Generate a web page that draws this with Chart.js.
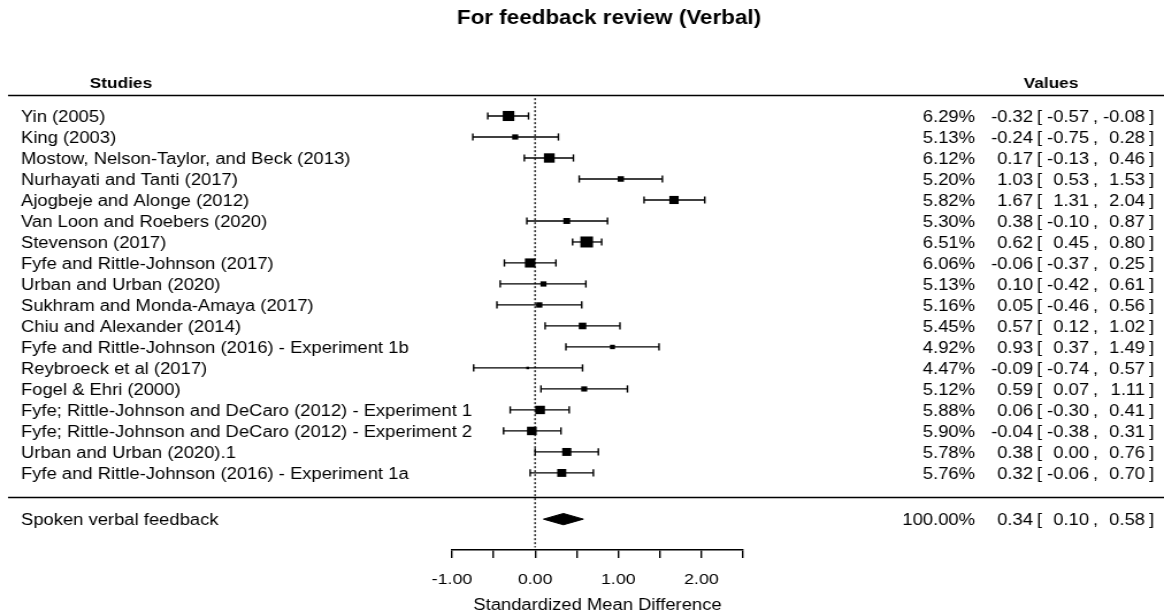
<!DOCTYPE html>
<html>
<head>
<meta charset="utf-8">
<script src="https://cdn.jsdelivr.net/npm/chart.js@4.4.1/dist/chart.umd.min.js"></script>
<style>
  body { margin: 0; background: #fff; }
  canvas { display: block; }
</style>
</head>
<body>
<canvas id="forest" width="1012" height="615" style="width:1164px;height:615px"></canvas>
<script>
// forest plot data
const studies = [
  "Yin (2005)",
  "King (2003)",
  "Mostow, Nelson-Taylor, and Beck (2013)",
  "Nurhayati and Tanti (2017)",
  "Ajogbeje and Alonge (2012)",
  "Van Loon and Roebers (2020)",
  "Stevenson (2017)",
  "Fyfe and Rittle-Johnson (2017)",
  "Urban and Urban (2020)",
  "Sukhram and Monda-Amaya (2017)",
  "Chiu and Alexander (2014)",
  "Fyfe and Rittle-Johnson (2016) - Experiment 1b",
  "Reybroeck et al (2017)",
  "Fogel & Ehri (2000)",
  "Fyfe; Rittle-Johnson and DeCaro (2012) - Experiment 1",
  "Fyfe; Rittle-Johnson and DeCaro (2012) - Experiment 2",
  "Urban and Urban (2020).1",
  "Fyfe and Rittle-Johnson (2016) - Experiment 1a"
]
const weights = [6.29, 5.13, 6.12, 5.20, 5.82, 5.30, 6.51, 6.06, 5.13, 5.16, 5.45, 4.92, 4.47, 5.12, 5.88, 5.90, 5.78, 5.76]
const estimates = [-0.32, -0.24, 0.17, 1.03, 1.67, 0.38, 0.62, -0.06, 0.10, 0.05, 0.57, 0.93, -0.09, 0.59, 0.06, -0.04, 0.38, 0.32]
const lower = [-0.57, -0.75, -0.13, 0.53, 1.31, -0.10, 0.45, -0.37, -0.42, -0.46, 0.12, 0.37, -0.74, 0.07, -0.30, -0.38, 0.00, -0.06]
const upper = [-0.08, 0.28, 0.46, 1.53, 2.04, 0.87, 0.80, 0.25, 0.61, 0.56, 1.02, 1.49, 0.57, 1.11, 0.41, 0.31, 0.76, 0.70]

const summaryLabel = "Spoken verbal feedback"
const summaryWeight = 100.00
const summaryEst = 0.34
const summaryLower = 0.10
const summaryUpper = 0.58

const xTicks = [-1.00, 0.00, 1.00, 2.00]

// layout (reference pixels, canvas is stretched horizontally by SX)
const SX = 1164 / 1012
const FONT = "'Liberation Sans', Arial, sans-serif"
const summaryRow = 19.2
const px = (v) => v / SX

const minW = Math.min(...weights)
const maxW = Math.max(...weights)
// square side grows with study weight
const radii = weights.map((w) => (2.5 + 8.5 * (w - minW) / (maxW - minW)) * Math.SQRT1_2)

const datasets = []

// confidence intervals with end caps
studies.forEach((s, i) => {
  datasets.push({
    data: [{ x: lower[i], y: i }, { x: upper[i], y: i }],
    showLine: true,
    borderColor: "#000",
    borderWidth: 1.3,
    pointStyle: "line",
    rotation: 90,
    pointRadius: 3.6,
    pointBorderWidth: 1.4,
    pointBorderColor: "#000",
    order: 3
  })
})

// study estimates
datasets.push({
  data: estimates.map((e, i) => ({ x: e, y: i })),
  pointStyle: "rect",
  pointRadius: radii,
  pointBackgroundColor: "#000",
  pointBorderWidth: 0,
  order: 1
})

// summary diamond
datasets.push({
  data: [
    { x: summaryLower, y: summaryRow },
    { x: summaryEst, y: summaryRow - 0.27 },
    { x: summaryUpper, y: summaryRow },
    { x: summaryEst, y: summaryRow + 0.27 },
    { x: summaryLower, y: summaryRow }
  ],
  showLine: true,
  fill: "shape",
  backgroundColor: "#000",
  borderColor: "#000",
  borderWidth: 1,
  pointRadius: 0,
  order: 1
})

// reference line at zero
datasets.push({
  data: [{ x: 0, y: -0.85 }, { x: 0, y: 20.55 }],
  showLine: true,
  borderColor: "#333",
  borderWidth: 1.6,
  borderDash: [2, 2],
  pointRadius: 0,
  order: 4
})

function fmt(v) {
  return v.toFixed(2)
}

const textPlugin = {
  id: "forestText",
  afterDraw(chart) {
    const ctx = chart.ctx
    const y = chart.scales.y
    ctx.save()
    ctx.fillStyle = "#000"

    // title
    ctx.font = "bold 19.5px " + FONT
    ctx.textAlign = "center"
    ctx.textBaseline = "middle"
    ctx.fillText("For feedback review (Verbal)", px(609), 19)

    // headers
    ctx.font = "bold 15px " + FONT
    ctx.fillText("Studies", px(121), 84)
    ctx.fillText("Values", px(1051), 84)

    // rules
    ctx.strokeStyle = "#000"
    ctx.lineWidth = 1.5
    ctx.beginPath()
    ctx.moveTo(px(8), 95.5)
    ctx.lineTo(px(1164), 95.5)
    ctx.moveTo(px(8), 497.5)
    ctx.lineTo(px(1164), 497.5)
    ctx.stroke()

    ctx.font = "16px " + FONT
    const row = (label, w, est, lo, hi, yy) => {
      yy += 1.5
      ctx.textAlign = "left"
      ctx.fillText(label, px(21), yy)
      ctx.textAlign = "right"
      ctx.fillText(w.toFixed(2) + "%", px(975), yy)
      ctx.fillText(fmt(est), px(1033), yy)
      ctx.fillText(fmt(lo), px(1089), yy)
      ctx.fillText(fmt(hi), px(1145), yy)
      ctx.textAlign = "left"
      ctx.fillText("[", px(1037), yy)
      ctx.fillText(",", px(1093), yy)
      ctx.fillText("]", px(1149), yy)
    }
    studies.forEach((s, i) => {
      row(s, weights[i], estimates[i], lower[i], upper[i], y.getPixelForValue(i))
    })
    row(summaryLabel, summaryWeight, summaryEst, summaryLower, summaryUpper, y.getPixelForValue(summaryRow))
    ctx.restore()
  }
}

new Chart(document.querySelector("#forest"), {
  type: "scatter",
  data: { datasets: datasets },
  options: {
    responsive: false,
    animation: false,
    events: [],
    layout: {
      padding: { left: px(452), right: 1012 - px(743), top: 95, bottom: 0 }
    },
    plugins: {
      legend: { display: false },
      tooltip: { enabled: false }
    },
    scales: {
      x: {
        type: "linear",
        min: -1,
        max: 2.5,
        afterBuildTicks(scale) {
          scale.ticks = [-1, -0.5, 0, 0.5, 1, 1.5, 2, 2.5].map((v) => ({ value: v }))
        },
        afterFit(scale) {
          scale.height = 65
        },
        ticks: {
          autoSkip: false,
          maxRotation: 0,
          padding: 12,
          color: "#000",
          font: { family: FONT, size: 15.5 },
          callback: (v) => (xTicks.includes(v) ? fmt(v) : "")
        },
        grid: {
          display: true,
          drawOnChartArea: false,
          drawTicks: true,
          tickLength: 8,
          color: "#000",
          lineWidth: 1.4
        },
        border: { display: true, color: "#000", width: 1.5 },
        title: {
          display: true,
          text: "Standardized Mean Difference",
          color: "#000",
          font: { family: FONT, size: 16 },
          padding: { top: 0, bottom: 0 }
        }
      },
      y: {
        type: "linear",
        display: false,
        reverse: true,
        min: -1.0,
        max: 20.67
      }
    }
  },
  plugins: [textPlugin]
})
</script>
</body>
</html>
